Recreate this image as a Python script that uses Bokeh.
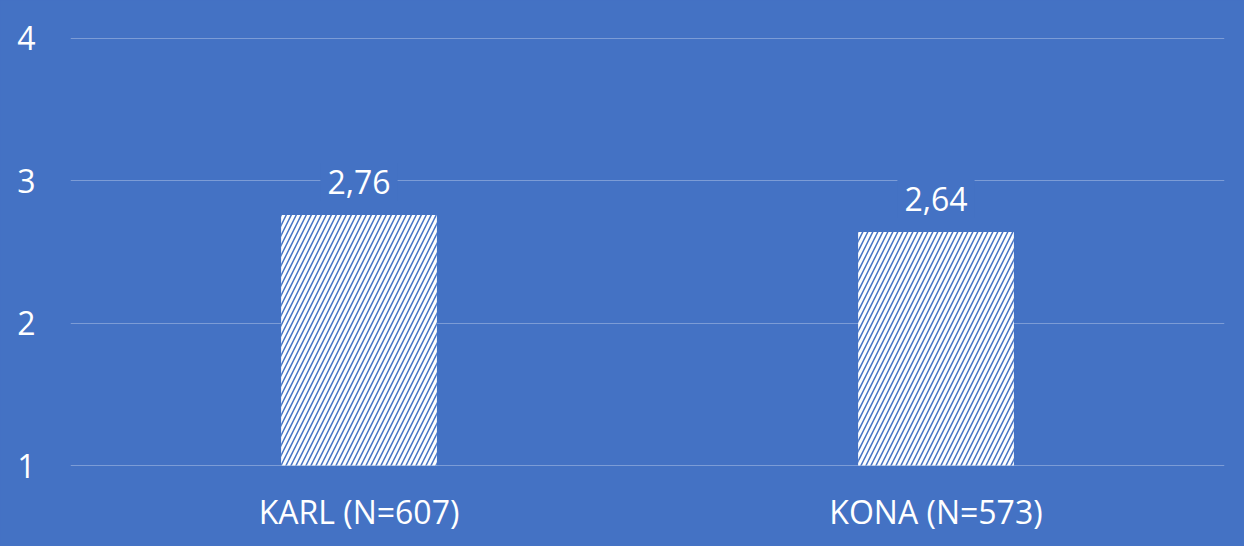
from bokeh.plotting import figure
from bokeh.models import ColumnDataSource, FactorRange, Range1d, FixedTicker
from bokeh.embed import file_html
from bokeh.resources import INLINE
from bokeh.core.properties import value

categories = ["KARL (N=607)", "KONA (N=573)"]
values = [2.76, 2.64]
labels = ["2,76", "2,64"]
y_ticks = [1, 2, 3, 4]

BLUE = "#4472C4"

src = ColumnDataSource(dict(cat=categories, val=values, lab=labels,
                            base=[1] * len(values)))

p = figure(width=1244, height=546, x_range=FactorRange(*categories, range_padding=0),
           y_range=Range1d(0.993, 4.007), output_backend="svg", toolbar_location=None,
           min_border_left=70, min_border_right=20, min_border_top=37,
           min_border_bottom=80, outline_line_color=None)

p.styles = {"background-color": BLUE}
p.background_fill_color = BLUE
p.border_fill_color = BLUE

p.vbar(x="cat", top="val", bottom="base", width=0.27, source=src,
       fill_color="white", line_color=None,
       hatch_pattern="/", hatch_color=BLUE, hatch_scale=10, hatch_weight=1.5)

p.text(x="cat", y="val", text="lab", source=src, y_offset=-33,
       text_align="center", text_baseline="middle",
       text_font=value("Open Sans"), text_font_size="32px", text_color="white",
       background_fill_color=BLUE, padding=7)

p.xgrid.visible = False
p.ygrid.grid_line_color = "white"
p.ygrid.grid_line_alpha = 0.3
p.ygrid.grid_line_width = 1

p.yaxis.ticker = FixedTicker(ticks=y_ticks)
for ax in (p.xaxis, p.yaxis):
    ax.axis_line_color = None
    ax.major_tick_line_color = None
    ax.minor_tick_line_color = None
    ax.major_label_text_color = "white"
    ax.major_label_text_font = "Open Sans"
    ax.major_label_text_font_size = "32px"
p.yaxis.major_label_standoff = 29
p.xaxis.major_label_standoff = 17

open("out.html", "w").write(file_html(p, INLINE))
